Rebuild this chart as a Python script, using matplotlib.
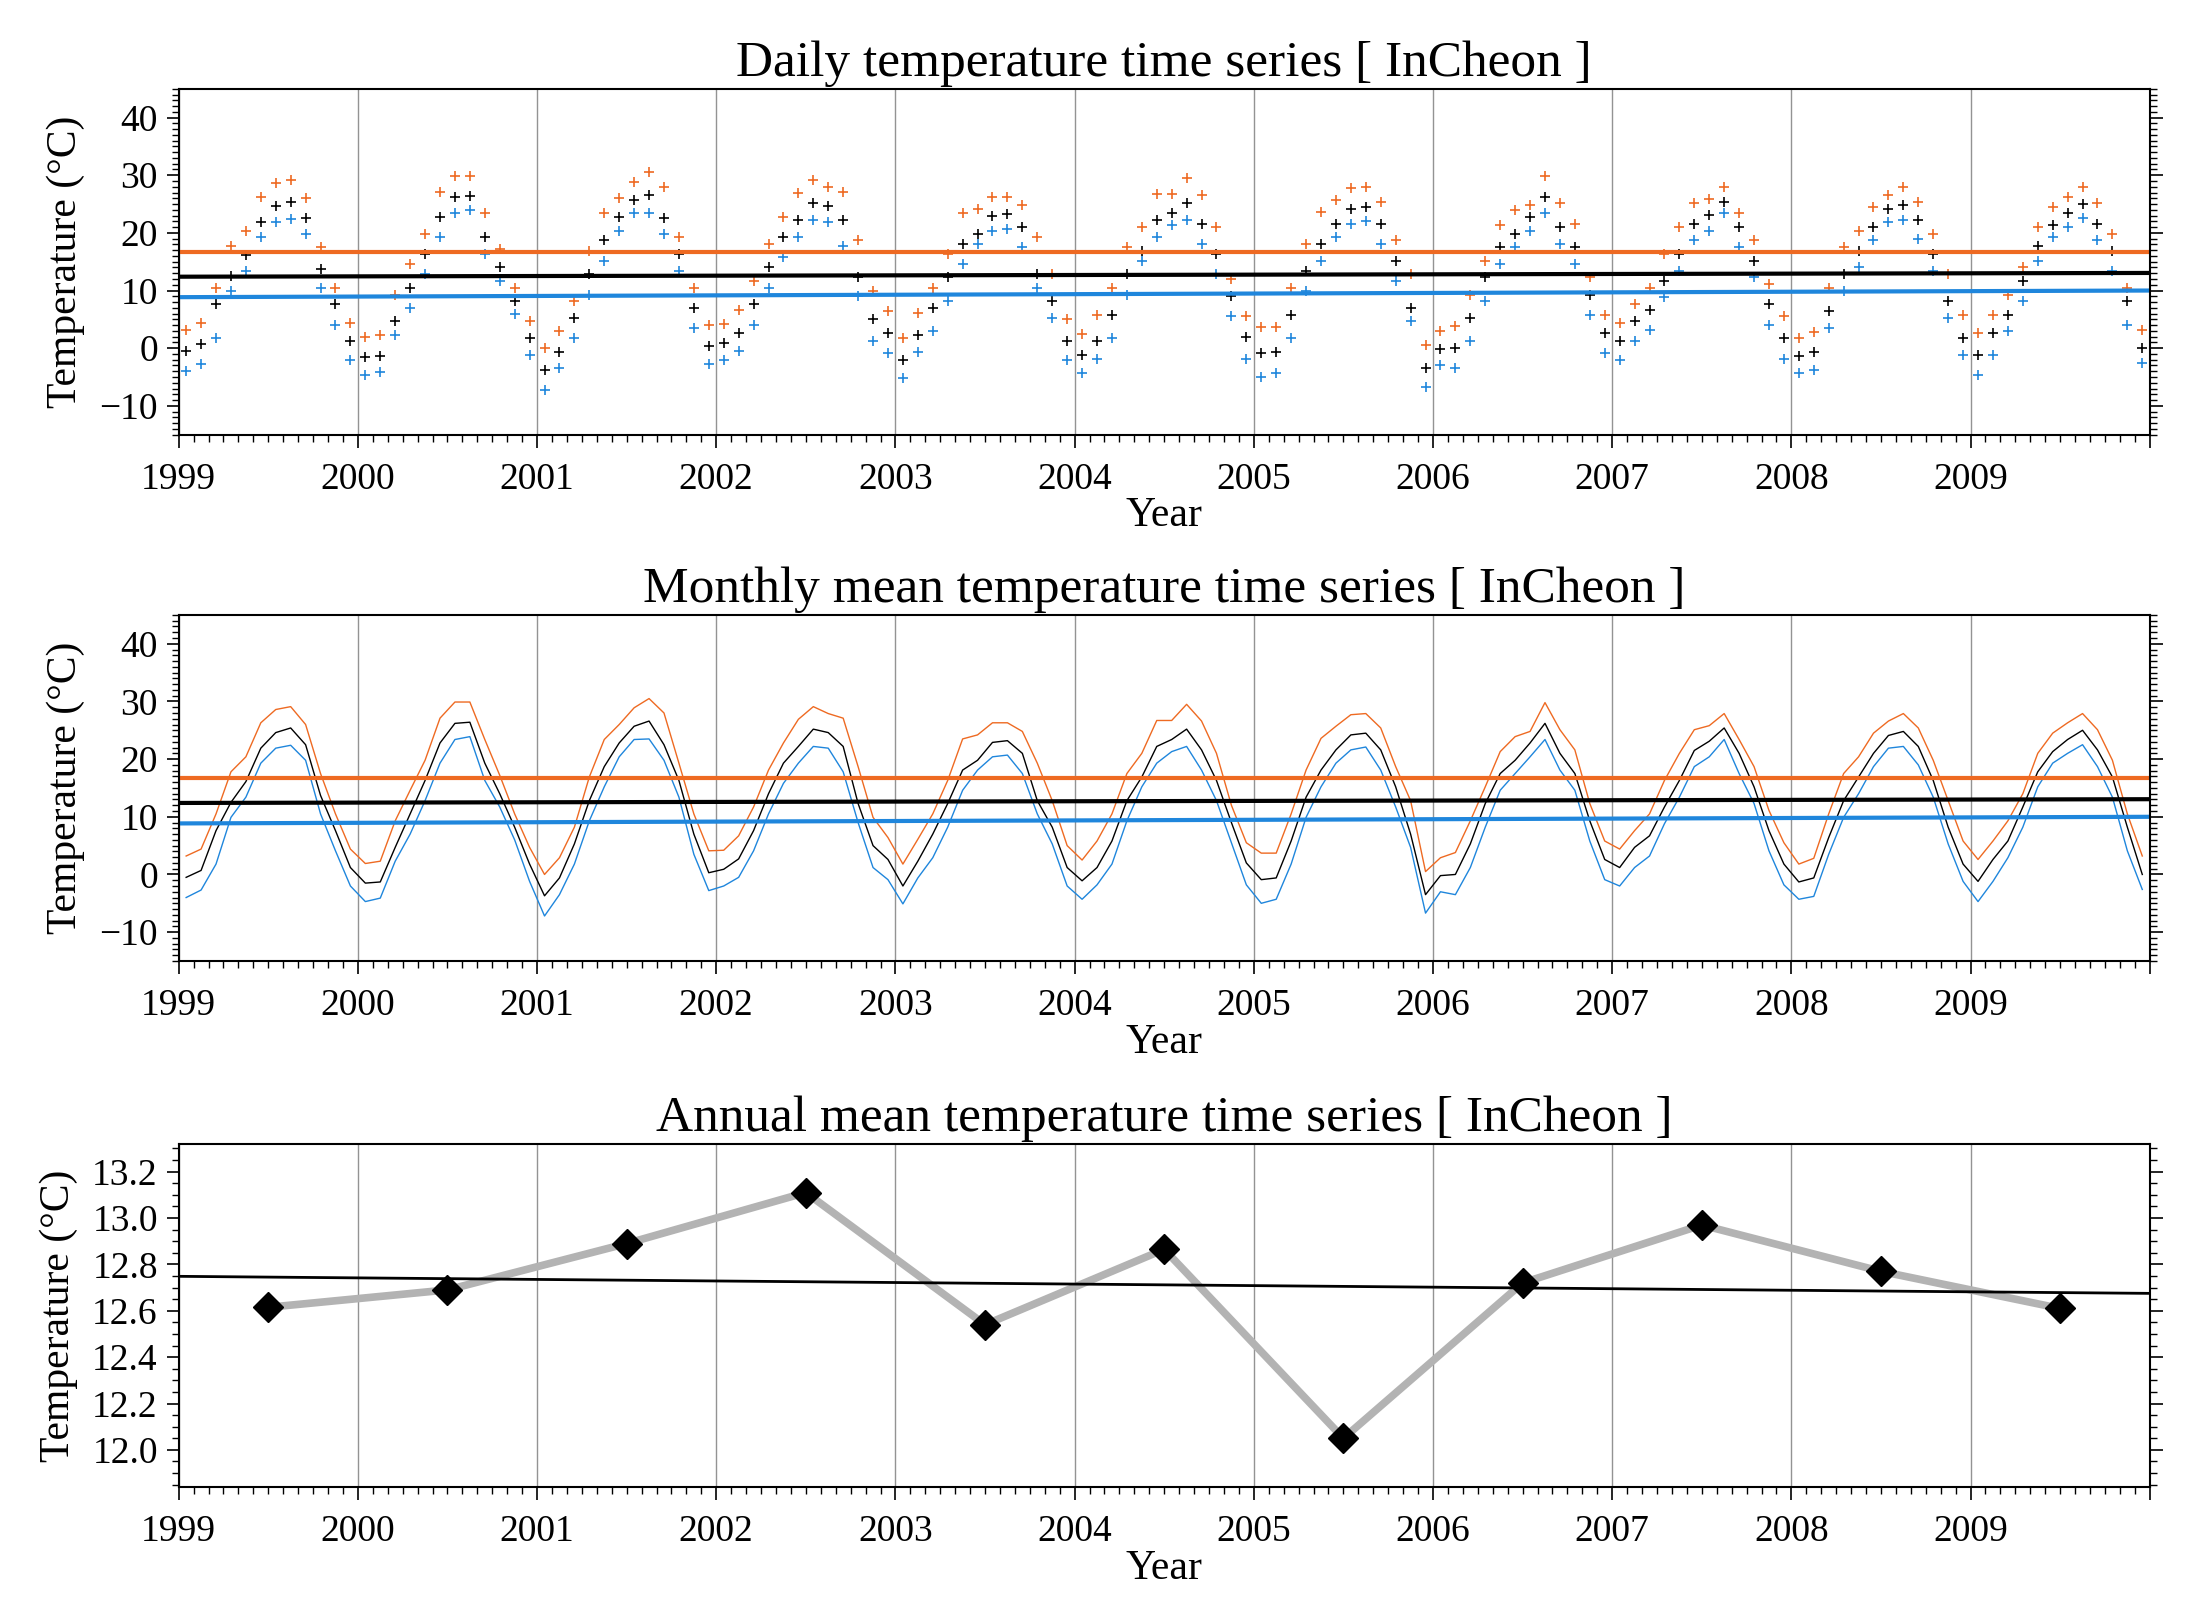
import matplotlib
matplotlib.use('Agg')
import matplotlib.pyplot as plt
import numpy as np
from matplotlib.ticker import MultipleLocator

plt.rcParams['font.family'] = ['Liberation Serif', 'DejaVu Serif']

station = 'InCheon'
years = list(range(1999, 2010))

# monthly max / mean / min temperature (degC), Jan..Dec for each year 1999-2009
tmax = [3.2, 4.4, 10.5, 17.8, 20.4, 26.3, 28.6, 29.1, 26.0, 17.5, 10.5, 4.4,
        1.9, 2.3, 9.3, 14.6, 19.8, 27.1, 29.9, 29.9, 23.4, 17.2, 10.5, 4.7,
        0.0, 2.9, 8.2, 16.9, 23.4, 26.0, 28.9, 30.5, 28.0, 19.3, 10.5, 4.1,
        4.2, 6.7, 11.7, 18.1, 22.8, 26.9, 29.1, 27.9, 27.1, 18.7, 9.9, 6.4,
        1.8, 6.1, 10.5, 16.3, 23.5, 24.2, 26.3, 26.3, 24.8, 19.3, 12.8, 5.0,
        2.5, 5.8, 10.5, 17.5, 21.0, 26.7, 26.7, 29.5, 26.6, 21.0, 12.0, 5.5,
        3.7, 3.7, 10.5, 18.1, 23.6, 25.7, 27.7, 27.9, 25.4, 18.7, 12.8, 0.5,
        2.9, 3.8, 9.3, 15.2, 21.3, 23.9, 24.8, 29.8, 25.1, 21.6, 12.3, 5.8,
        4.4, 7.6, 10.5, 16.3, 21.0, 25.1, 25.8, 27.9, 23.4, 18.7, 11.1, 5.5,
        1.8, 2.8, 10.5, 17.5, 20.4, 24.5, 26.6, 27.9, 25.4, 19.8, 12.8, 5.8,
        2.6, 5.8, 9.3, 14.0, 21.0, 24.5, 26.3, 27.9, 25.1, 19.8, 10.5, 3.2]
tmean = [-0.5, 0.7, 7.6, 12.5, 16.1, 21.9, 24.6, 25.4, 22.5, 13.7, 7.6, 1.2,
         -1.5, -1.3, 4.7, 10.5, 16.3, 22.8, 26.2, 26.4, 19.3, 14.0, 8.2, 1.8,
         -3.7, -0.6, 5.3, 12.8, 18.7, 22.8, 25.7, 26.6, 22.5, 16.3, 7.0, 0.3,
         0.9, 2.7, 7.6, 14.0, 19.3, 22.2, 25.2, 24.6, 22.2, 12.3, 5.0, 2.6,
         -2.0, 2.3, 7.0, 12.3, 18.1, 19.8, 22.9, 23.2, 21.0, 12.8, 8.2, 1.2,
         -1.1, 1.2, 5.8, 12.8, 16.9, 22.2, 23.4, 25.2, 21.6, 16.3, 9.0, 2.0,
         -0.9, -0.6, 5.8, 13.4, 18.1, 21.6, 24.2, 24.5, 21.6, 15.2, 7.0, -3.5,
         -0.2, 0.0, 5.3, 12.3, 17.5, 19.8, 22.8, 26.2, 21.0, 17.5, 9.3, 2.6,
         1.2, 4.7, 6.7, 11.7, 16.3, 21.5, 23.1, 25.4, 21.0, 15.2, 7.6, 1.8,
         -1.3, -0.6, 6.4, 12.8, 16.9, 21.0, 24.1, 24.8, 22.2, 16.3, 8.2, 1.8,
         -1.2, 2.6, 5.8, 11.7, 17.8, 21.3, 23.4, 25.0, 21.6, 16.9, 8.2, 0.0]
tmin = [-4.0, -2.7, 1.8, 9.9, 13.4, 19.3, 21.9, 22.4, 19.8, 10.5, 4.1, -2.0,
        -4.7, -4.1, 2.3, 7.0, 12.8, 19.3, 23.4, 23.9, 16.3, 11.7, 6.0, -1.2,
        -7.2, -3.5, 1.8, 9.3, 15.2, 20.4, 23.4, 23.5, 19.8, 13.4, 3.5, -2.8,
        -2.0, -0.5, 4.1, 10.5, 15.8, 19.3, 22.2, 21.9, 17.8, 9.0, 1.2, -0.9,
        -5.1, -0.6, 2.9, 8.2, 14.6, 18.1, 20.4, 20.7, 17.5, 10.5, 5.3, -2.0,
        -4.3, -1.8, 1.8, 9.3, 15.2, 19.3, 21.3, 22.2, 18.1, 12.8, 5.5, -1.8,
        -5.0, -4.3, 1.8, 9.9, 15.2, 19.3, 21.6, 22.1, 18.1, 11.7, 4.7, -6.7,
        -3.0, -3.5, 1.2, 8.2, 14.6, 17.5, 20.4, 23.4, 18.1, 14.6, 5.8, -0.9,
        -2.0, 1.2, 3.2, 8.8, 13.4, 18.7, 20.4, 23.4, 17.5, 12.3, 4.1, -1.8,
        -4.3, -3.8, 3.5, 9.9, 14.0, 18.7, 21.9, 22.2, 19.0, 13.4, 5.3, -1.2,
        -4.7, -1.2, 2.9, 8.2, 15.2, 19.3, 21.0, 22.5, 18.7, 13.4, 4.1, -2.6]

# linear trend values at start (1999) and end (2010)
trend_x = [1999, 2010]
tmax_trend = [16.7, 16.7]
tmean_trend = [12.4, 13.05]
tmin_trend = [8.85, 10.0]

annual_mean = [12.615, 12.69, 12.89, 13.11, 12.54, 12.865, 12.05, 12.72, 12.97, 12.77, 12.61]

c_max = '#ee6a22'
c_mean = 'black'
c_min = '#1f86dc'

t = 1999 + (np.arange(len(tmean)) + 0.5) / 12.0
ty = np.array(years) + 0.5

fig = plt.figure(figsize=(22.06, 16.14), dpi=100)
ax1 = fig.add_axes([0.081, 0.7307, 0.8935, 0.2143])
ax2 = fig.add_axes([0.081, 0.4046, 0.8935, 0.2144])
ax3 = fig.add_axes([0.081, 0.0787, 0.8935, 0.2126])

def style(ax, title):
    ax.set_xlim(1999, 2010)
    ax.set_xticks(range(1999, 2011))
    ax.set_xticklabels([str(y) for y in years] + [''])
    ax.xaxis.set_minor_locator(MultipleLocator(1 / 12))
    ax.tick_params(axis='x', which='both', direction='out', top=False, labelsize=27, pad=11)
    ax.tick_params(axis='y', which='both', direction='out', left=True, right=True, labelsize=27, pad=6)
    ax.tick_params(which='major', length=9, width=1.2)
    ax.tick_params(which='minor', length=5, width=1.0)
    ax.grid(axis='x', which='major', color='#939393', lw=1.0)
    ax.set_axisbelow(True)
    for s in ax.spines.values():
        s.set_linewidth(1.5)
    ax.set_title(title, fontsize=37, pad=9)
    ax.set_xlabel('Year', fontsize=30, labelpad=0)
    ax.set_ylabel('Temperature (°C)', fontsize=30, labelpad=10)

# daily panel
ax1.plot(t, tmax, '+', color=c_max, ms=7, mew=1.2)
ax1.plot(t, tmean, '+', color=c_mean, ms=7, mew=1.2)
ax1.plot(t, tmin, '+', color=c_min, ms=7, mew=1.2)
ax1.plot(trend_x, tmax_trend, color=c_max, lw=3)
ax1.plot(trend_x, tmean_trend, color=c_mean, lw=3)
ax1.plot(trend_x, tmin_trend, color=c_min, lw=3)
ax1.set_ylim(-15, 45)
ax1.set_yticks(range(-10, 41, 10))
ax1.yaxis.set_minor_locator(MultipleLocator(1))
style(ax1, 'Daily temperature time series [ %s ]' % station)

# monthly panel
ax2.plot(t, tmax, color=c_max, lw=1.0)
ax2.plot(t, tmean, color=c_mean, lw=1.0)
ax2.plot(t, tmin, color=c_min, lw=1.0)
ax2.plot(trend_x, tmax_trend, color=c_max, lw=3)
ax2.plot(trend_x, tmean_trend, color=c_mean, lw=3)
ax2.plot(trend_x, tmin_trend, color=c_min, lw=3)
ax2.set_ylim(-15, 45)
ax2.set_yticks(range(-10, 41, 10))
ax2.yaxis.set_minor_locator(MultipleLocator(1))
style(ax2, 'Monthly mean temperature time series [ %s ]' % station)

# annual panel
k, b = np.polyfit(ty, annual_mean, 1)
xx = np.array([1999, 2010])
ax3.plot(ty, annual_mean, color='#b3b3b3', lw=5.5, zorder=2)
ax3.plot(xx, k * xx + b, color='black', lw=2, zorder=3)
ax3.plot(ty, annual_mean, 'D', color='black', ms=15, zorder=4)
ax3.set_ylim(11.84, 13.32)
ax3.set_yticks(np.arange(12.0, 13.21, 0.2))
ax3.set_yticklabels(['%.1f' % v for v in np.arange(12.0, 13.21, 0.2)])
ax3.yaxis.set_minor_locator(MultipleLocator(0.05))
style(ax3, 'Annual mean temperature time series [ %s ]' % station)

fig.savefig('out.png', dpi=100)
